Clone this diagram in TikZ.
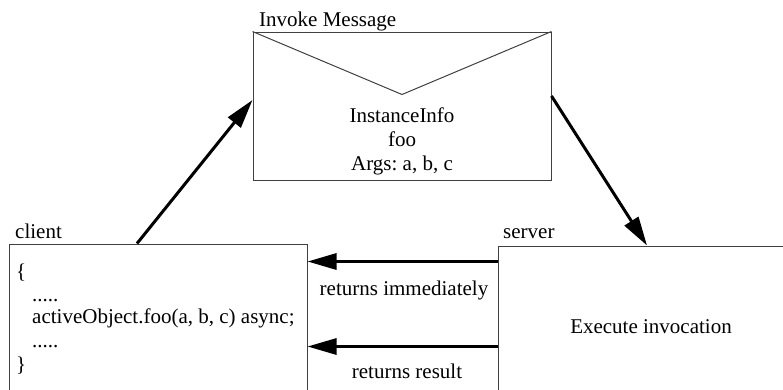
\documentclass[tikz,border=0pt]{standalone}
\usepackage{fontspec}
\setmainfont{Liberation Serif}
\frenchspacing
\usetikzlibrary{arrows.meta,calc}
\begin{document}
\begin{tikzpicture}[x=1pt,y=-1pt,
  every node/.style={font=\fontsize{21}{24}\selectfont, inner sep=0pt},
  box/.style={draw=black!75, line width=1pt, rectangle},
  edge/.style={draw=black!75, line width=1pt},
  flow/.style={line width=3pt, -{Triangle[length=29pt,width=16pt]}},
  txt/.style={anchor=base west},
  ctxt/.style={anchor=base}]
\useasboundingbox (0,0) rectangle (783,389);
\clip (0,0) rectangle (783,389);

% message envelope
\node[box, minimum width=298pt, minimum height=148pt] (msg) at (402,106) {};
\coordinate (flap) at ($(msg.north west)!0.5!(msg.north east)+(0,63)$);
\draw[edge] (msg.north west) -- (flap) -- (msg.north east);
\node[txt] (msgtitle) at (259,26) {Invoke Message};
\node[ctxt] (m1) at (402,122) {InstanceInfo};
\node[ctxt] (m2) at (402,146) {foo};
\node[ctxt] (m3) at (402,170) {Args: a, b, c};

% client box
\node[box, minimum width=298pt, minimum height=200pt] (client) at (158,344) {};
\node[txt] (clientlbl) at (15,238) {client};
\node[txt] (c1) at (16,278) {\{};
\node[txt] (c2) at (32,301) {.....};
\node[txt] (c3) at (32,323) {activeObject.foo(a, b, c) async;};
\node[txt] (c4) at (32,347) {.....};
\node[txt] (c5) at (16,371) {\}};

% server box
\node[box, minimum width=310pt, minimum height=200pt] (server) at (653,346) {};
\node[txt] (serverlbl) at (503,238) {server};
\node[ctxt] (exec) at (651,333) {Execute invocation};

% invocation path
\draw[flow] ([xshift=-21pt]client.north) -- ([yshift=6pt]msg.west);
\draw[flow] ([yshift=10pt]msg.east) -- ([xshift=-6pt]server.north);

% returns
\coordinate (s1) at ([yshift=-16pt]server.north west);
\coordinate (s2) at ([yshift=-101pt]server.north west);
\draw[flow] (s1) -- (s1 -| client.east);
\draw[flow] (s2) -- (s2 -| client.east);
\node[ctxt] (r1) at (404,295) {returns immediately};
\node[ctxt] (r2) at (407,378) {returns result};
\end{tikzpicture}
\end{document}
